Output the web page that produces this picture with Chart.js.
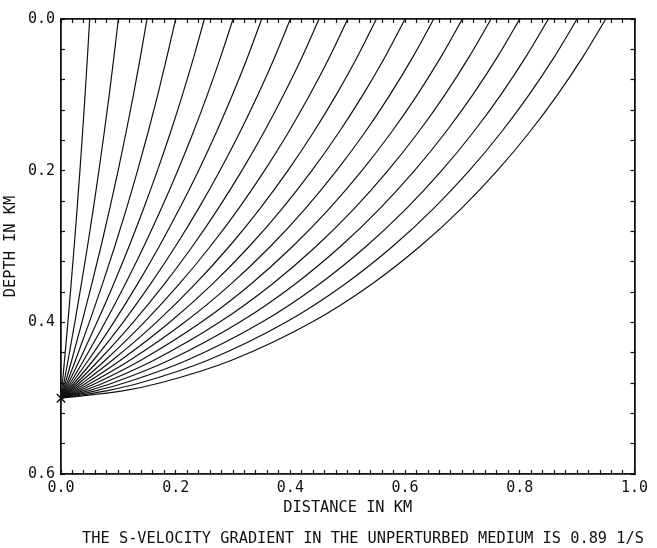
<!DOCTYPE html>
<html>
<head>
<meta charset="utf-8">
<script src="https://cdn.jsdelivr.net/npm/chart.js@4/dist/chart.umd.min.js"></script>
<style>
  html, body { margin: 0; padding: 0; background: #fff; }
  canvas { display: block; }
</style>
</head>
<body>
<canvas id="rays" width="657" height="548"></canvas>
<script>
// depth levels (km) at which each ray's distance is listed, source first
const depthLevels = [0.5, 0.49, 0.48, 0.45, 0.4, 0.35, 0.3, 0.25, 0.2, 0.15, 0.1, 0.05, 0];

// horizontal distance (km) of every ray at the depth levels above
const rayDistances = [
  [0, 0.0012, 0.0025, 0.0061, 0.012, 0.0176, 0.023, 0.0281, 0.033, 0.0376, 0.042, 0.0461, 0.05],
  [0, 0.0025, 0.005, 0.0123, 0.0241, 0.0354, 0.0462, 0.0564, 0.0661, 0.0753, 0.0841, 0.0923, 0.1],
  [0, 0.0038, 0.0076, 0.0187, 0.0365, 0.0535, 0.0697, 0.085, 0.0996, 0.1133, 0.1263, 0.1385, 0.15],
  [0, 0.0052, 0.0103, 0.0253, 0.0493, 0.0721, 0.0937, 0.1142, 0.1335, 0.1516, 0.1687, 0.1847, 0.2],
  [0, 0.0066, 0.0131, 0.0323, 0.0627, 0.0915, 0.1186, 0.1441, 0.1681, 0.1907, 0.2118, 0.2316, 0.25],
  [0, 0.0081, 0.0162, 0.0397, 0.0769, 0.1117, 0.1444, 0.1749, 0.2035, 0.2303, 0.2552, 0.2784, 0.3],
  [0, 0.0098, 0.0195, 0.0477, 0.092, 0.133, 0.1712, 0.2067, 0.2398, 0.2705, 0.299, 0.3255, 0.35],
  [0, 0.0117, 0.0232, 0.0565, 0.1082, 0.1556, 0.1994, 0.2397, 0.277, 0.3115, 0.3434, 0.3728, 0.4],
  [0, 0.0138, 0.0274, 0.0662, 0.1258, 0.1798, 0.229, 0.274, 0.3154, 0.3534, 0.3883, 0.4205, 0.45],
  [0, 0.0163, 0.0321, 0.0771, 0.145, 0.2056, 0.2602, 0.3098, 0.3549, 0.3961, 0.4338, 0.4684, 0.5],
  [0, 0.0192, 0.0376, 0.0895, 0.1662, 0.2334, 0.2933, 0.347, 0.3956, 0.4397, 0.4799, 0.5166, 0.55],
  [0, 0.0226, 0.0442, 0.1037, 0.1896, 0.2634, 0.3281, 0.3857, 0.4374, 0.4841, 0.5265, 0.565, 0.6],
  [0, 0.0268, 0.0521, 0.1201, 0.2155, 0.2956, 0.365, 0.4261, 0.4805, 0.5295, 0.5736, 0.6137, 0.65],
  [0, 0.0322, 0.0618, 0.1393, 0.2443, 0.3303, 0.4038, 0.4679, 0.5247, 0.5755, 0.6213, 0.6626, 0.7],
  [0, 0.0392, 0.074, 0.1619, 0.2761, 0.3675, 0.4446, 0.5113, 0.57, 0.6224, 0.6694, 0.7117, 0.75],
  [0, 0.0486, 0.0898, 0.1885, 0.3113, 0.4073, 0.4872, 0.556, 0.6164, 0.67, 0.7179, 0.7611, 0.8],
  [0, 0.0619, 0.1103, 0.2197, 0.3499, 0.4496, 0.5318, 0.6022, 0.6637, 0.7182, 0.7669, 0.8106, 0.85],
  [0, 0.0813, 0.1373, 0.256, 0.3919, 0.4942, 0.5781, 0.6495, 0.7119, 0.767, 0.8161, 0.8603, 0.9],
  [0, 0.11, 0.1723, 0.2976, 0.4371, 0.541, 0.6258, 0.698, 0.7608, 0.8162, 0.8657, 0.9101, 0.95]
];

const sourcePoint = { x: 0, y: 0.5 };

// tick positions along the frame
const xTicks = [0, 0.02, 0.04, 0.06, 0.08, 0.1, 0.12, 0.14, 0.16, 0.18, 0.2, 0.22, 0.24, 0.26, 0.28,
  0.3, 0.32, 0.34, 0.36, 0.38, 0.4, 0.42, 0.44, 0.46, 0.48, 0.5, 0.52, 0.54, 0.56, 0.58, 0.6,
  0.62, 0.64, 0.66, 0.68, 0.7, 0.72, 0.74, 0.76, 0.78, 0.8, 0.82, 0.84, 0.86, 0.88, 0.9,
  0.92, 0.94, 0.96, 0.98, 1.0];
const depthTicks = [0, 0.04, 0.08, 0.12, 0.16, 0.2, 0.24, 0.28, 0.32, 0.36, 0.4, 0.44, 0.48, 0.52, 0.56, 0.6];

const xTitle = 'DISTANCE IN KM';
const yTitle = 'DEPTH IN KM';
const caption = 'THE S-VELOCITY GRADIENT IN THE UNPERTURBED MEDIUM IS 0.89 1/S';

const FONT = '"DejaVu Sans Mono", "Liberation Mono", monospace';
const INK = '#111';

// label only every 0.2
const everyFifth = v => (Math.round(v * 100) % 20 === 0 ? v.toFixed(1) : '');

const datasets = rayDistances.map((xs, i) => ({
  label: 'ray ' + (i + 1),
  data: depthLevels.map((d, j) => ({ x: xs[j], y: d })),
  borderColor: INK,
  borderWidth: 1.2,
  pointRadius: 0,
  fill: false,
  cubicInterpolationMode: 'monotone'
}));

datasets.push({
  label: 'source',
  data: [sourcePoint],
  showLine: false,
  pointStyle: 'crossRot',
  pointRadius: 6,
  borderColor: INK,
  borderWidth: 1.5,
  clip: false
});

const frame = (values, extra) => Object.assign({
  type: 'linear',
  grid: { drawOnChartArea: false, drawTicks: true, tickLength: -4, color: INK, tickColor: INK, tickWidth: 1.2 },
  border: { display: true, color: INK, width: 1.8 },
  afterBuildTicks: s => { s.ticks = values.map(value => ({ value })); }
}, extra);

const captionPlugin = {
  id: 'caption',
  afterDraw(chart) {
    const ctx = chart.ctx;
    ctx.save();
    ctx.font = '15.3px ' + FONT;
    ctx.fillStyle = INK;
    ctx.textAlign = 'center';
    ctx.textBaseline = 'middle';
    ctx.fillText(caption, 363, 539);
    ctx.restore();
  }
};

new Chart(document.getElementById('rays'), {
  type: 'line',
  data: { datasets },
  plugins: [captionPlugin],
  options: {
    responsive: false,
    animation: false,
    layout: { padding: 0 },
    plugins: { legend: { display: false }, tooltip: { enabled: false } },
    scales: {
      x: frame(xTicks, {
        position: 'bottom',
        min: 0, max: 1,
        ticks: { autoSkip: false, maxRotation: 0, padding: 9, color: INK,
                 font: { family: FONT, size: 15 }, callback: everyFifth },
        title: { display: true, text: xTitle, color: INK, font: { family: FONT, size: 15.3 },
                 padding: { top: 0, bottom: 31 } },
        afterFit: s => { s.height = 74; }
      }),
      x2: frame(xTicks, {
        position: 'top',
        min: 0, max: 1,
        ticks: { autoSkip: false, display: false },
        afterFit: s => { s.height = 18; }
      }),
      y: frame(depthTicks, {
        position: 'left',
        reverse: true,
        min: 0, max: 0.6,
        ticks: { autoSkip: false, padding: 10, color: INK,
                 font: { family: FONT, size: 15 }, callback: everyFifth },
        title: { display: true, text: yTitle, color: INK, font: { family: FONT, size: 15.3 },
                 padding: { top: 2, bottom: 0 } },
        afterFit: s => { s.width = 61; }
      }),
      y2: frame(depthTicks, {
        position: 'right',
        reverse: true,
        min: 0, max: 0.6,
        ticks: { autoSkip: false, display: false },
        afterFit: s => { s.width = 20; }
      })
    }
  }
});
</script>
</body>
</html>
